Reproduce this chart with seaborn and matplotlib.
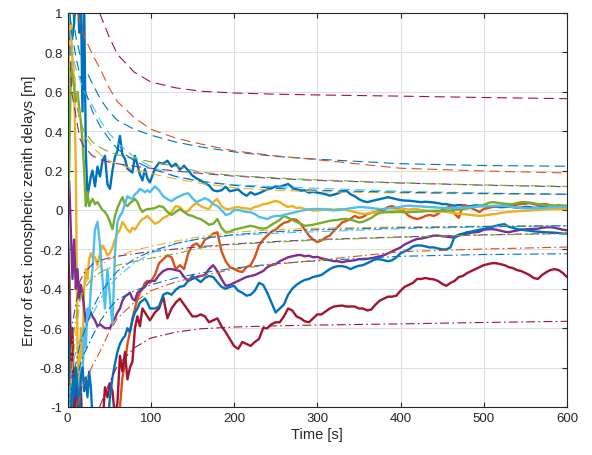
import numpy as np
import pandas as pd
import seaborn as sns
import matplotlib.pyplot as plt

sns.set_style('white')
plt.rcParams['font.family'] = ['Liberation Sans', 'DejaVu Sans']

# sample times [s] of the estimated delays
time = np.r_[0:31:2, 33:100:3, 105:601:5]

# errors of the estimated zenith delays [m]
err_blue1 = [0.95, 0.97, 0.92, 0.88, 0.95, 1.1, 1.2, 0.9, 1.1, 0.5, 1.05, 0.3, 0.07, 0.12, 0.17, 0.2,
             0.12, 0.22, 0.17, 0.25, 0.275, 0.13, 0.107, 0.2, 0.27, 0.3, 0.376, 0.28, 0.26, 0.21, 0.2,
             0.19, 0.275, 0.23, 0.18, 0.15, 0.208, 0.16, 0.14,
             0.21, 0.24, 0.235, 0.25, 0.22, 0.235, 0.205, 0.225, 0.2, 0.175,
             0.16, 0.15, 0.135, 0.125, 0.1, 0.095, 0.1, 0.118, 0.095, 0.1,
             0.105, 0.085, 0.072, 0.09, 0.078, 0.085, 0.095, 0.105, 0.11, 0.12,
             0.118, 0.125, 0.132, 0.115, 0.105, 0.098, 0.1, 0.088, 0.092, 0.088,
             0.085, 0.08, 0.073, 0.078, 0.085, 0.095, 0.098, 0.08, 0.07, 0.055,
             0.045, 0.04, 0.045, 0.05, 0.055, 0.06, 0.065, 0.06, 0.055, 0.05,
             0.048, 0.047, 0.045, 0.042, 0.04, 0.042, 0.04, 0.038, 0.035, 0.03,
             0.03, 0.025, 0.022, 0.025, 0.025, 0.02, 0.02, 0.024, 0.022, 0.02,
             0.02, 0.017, 0.018, 0.014, 0.015, 0.017, 0.015, 0.011, 0.012, 0.016,
             0.015, 0.011, 0.012, 0.016, 0.015, 0.011, 0.012, 0.016, 0.015, 0.015]
err_orange = [-0.6, -0.95, -1.2, -1.1, -0.95, -0.92, -1.05, -0.97, -1.2, -1.3, -1.35, -1.4, -1.4, -1.45, -1.45, -1.5,
              -1.5, -1.5, -1.45, -1.45, -1.4, -1.35, -1.3, -1.25, -1.2, -1.1, -1.0, -0.85, -0.78, -0.68, -0.62,
              -0.55, -0.5, -0.45, -0.42, -0.4, -0.37, -0.36, -0.37,
              -0.33, -0.27, -0.25, -0.23, -0.24, -0.3, -0.28, -0.3, -0.22, -0.18,
              -0.17, -0.19, -0.15, -0.14, -0.12, -0.113, -0.21, -0.26, -0.29, -0.3,
              -0.31, -0.315, -0.29, -0.28, -0.24, -0.18, -0.15, -0.13, -0.11, -0.1,
              -0.08, -0.065, -0.06, -0.046, -0.05, -0.07, -0.1, -0.13, -0.15, -0.163,
              -0.155, -0.14, -0.13, -0.105, -0.085, -0.063, -0.055, -0.045, -0.03, -0.04,
              -0.035, -0.02, -0.015, -0.01, -0.005, 0.0, 0.015, 0.02, 0.01, 0.0,
              -0.01, -0.03, -0.04, -0.046, -0.04, -0.03, -0.025, -0.03, -0.02, 0.0,
              0.01, 0.02, -0.02, -0.04, 0.025, 0.02, 0.01, 0.0, -0.01, 0.005,
              0.01, 0.015, 0.02, 0.02, 0.025, 0.018, 0.02, 0.028, 0.03, 0.032,
              0.035, 0.03, 0.025, 0.03, 0.03, 0.024, 0.02, 0.025, 0.02, 0.02]
err_yellow = [0.3, 0.9, 0.95, 0.75, 0.65, 0.2, -0.7, -0.95, -0.6, -0.75, -0.4, -0.3, -0.35, -0.25, -0.22, -0.24,
              -0.24, -0.28, -0.22, -0.18, -0.2, -0.23, -0.22, -0.19, -0.15, -0.12, -0.1, -0.06, -0.08, -0.1,
              -0.113, -0.09, -0.1, -0.08, -0.06, -0.046, -0.04, -0.03, -0.045,
              -0.07, -0.06, -0.04, -0.03, -0.01, 0.02, 0.015, -0.01, -0.005, 0.02,
              0.035, 0.02, 0.01, 0.005, 0.04, 0.056, 0.02, 0.005, 0.005, 0.012,
              0.015, 0.01, 0.008, 0.005, 0.015, 0.02, 0.03, 0.032, 0.04, 0.046,
              0.04, 0.025, 0.015, 0.02, 0.01, 0.012, 0.005, 0.002, -0.003, -0.002,
              0.0, 0.004, 0.005, 0.001, 0.005, 0.004, 0.0, -0.006, -0.01, -0.016,
              -0.02, -0.018, -0.015, -0.012, -0.01, -0.013, -0.01, -0.004, 0.0, 0.003,
              0.005, 0.002, 0.005, 0.004, 0.0, -0.003, -0.005, -0.008, -0.01, -0.008,
              -0.01, -0.013, -0.015, -0.018, -0.02, -0.023, -0.025, -0.028, -0.03, -0.028,
              -0.025, -0.022, -0.02, -0.015, -0.012, -0.01, -0.008, -0.007, -0.005, -0.004,
              -0.003, -0.001, 0.0, 0.002, 0.003, 0.004, 0.005, 0.005, 0.005, 0.005]
err_purple = [0.0, 0.15, -0.1, -0.35, -0.15, -0.4, -0.3, -0.45, -0.38, -0.42, -0.5, -0.57, -0.55, -0.5, -0.52, -0.54,
              -0.56, -0.59, -0.58, -0.59, -0.6, -0.6, -0.6, -0.57, -0.55, -0.52, -0.5, -0.46, -0.44, -0.43,
              -0.42, -0.45, -0.46, -0.42, -0.41, -0.4, -0.39, -0.37, -0.36,
              -0.36, -0.33, -0.31, -0.3, -0.3, -0.305, -0.31, -0.34, -0.36, -0.35,
              -0.34, -0.335, -0.33, -0.3, -0.28, -0.31, -0.35, -0.385, -0.38, -0.37,
              -0.36, -0.35, -0.34, -0.335, -0.33, -0.32, -0.31, -0.29, -0.28, -0.275,
              -0.26, -0.25, -0.24, -0.235, -0.23, -0.228, -0.235, -0.232, -0.24, -0.238,
              -0.245, -0.25, -0.255, -0.26, -0.26, -0.265, -0.26, -0.258, -0.255, -0.25,
              -0.25, -0.248, -0.245, -0.24, -0.235, -0.23, -0.22, -0.21, -0.2, -0.19,
              -0.175, -0.165, -0.155, -0.147, -0.145, -0.14, -0.135, -0.13, -0.13, -0.133,
              -0.135, -0.138, -0.14, -0.13, -0.125, -0.12, -0.115, -0.113, -0.11, -0.1,
              -0.098, -0.097, -0.1, -0.105, -0.11, -0.113, -0.108, -0.104, -0.1, -0.098,
              -0.097, -0.096, -0.095, -0.09, -0.088, -0.087, -0.09, -0.095, -0.1, -0.103]
err_green = [0.0, 0.2, 0.72, 0.68, 0.62, 0.55, 0.6, 0.52, 0.45, 0.35, 0.2, 0.02, 0.09, 0.02, 0.04, 0.056,
             0.03, 0.04, 0.02, 0.0, -0.01, -0.03, -0.06, -0.097, -0.03, 0.01, 0.04, 0.065, 0.03, 0.02,
             0.035, 0.045, 0.056, 0.04, 0.01, -0.01, 0.0, 0.005, 0.005,
             0.01, 0.02, 0.015, -0.01, -0.025, -0.01, 0.005, -0.01, -0.025, -0.03,
             -0.04, -0.046, -0.06, -0.075, -0.07, -0.046, -0.09, -0.113, -0.11, -0.1,
             -0.095, -0.09, -0.085, -0.08, -0.085, -0.092, -0.095, -0.09, -0.075, -0.063,
             -0.05, -0.03, -0.04, -0.05, -0.06, -0.07, -0.08, -0.078, -0.075, -0.07,
             -0.065, -0.06, -0.055, -0.052, -0.05, -0.046, -0.045, -0.05, -0.055, -0.063,
             -0.06, -0.05, -0.04, -0.025, -0.015, -0.01, -0.01, -0.012, -0.01, -0.01,
             -0.012, -0.011, -0.01, -0.009, -0.008, -0.006, -0.005, -0.004, -0.004, -0.003,
             -0.003, -0.002, 0.0, 0.002, 0.005, 0.008, 0.012, 0.016, 0.02, 0.025,
             0.035, 0.04, 0.038, 0.034, 0.032, 0.03, 0.03, 0.035, 0.04, 0.04,
             0.038, 0.034, 0.03, 0.027, 0.025, 0.024, 0.022, 0.023, 0.022, 0.022]
err_lightblue = [0.0, -0.3, -0.6, -0.9, -1.1, -1.2, -1.1, -0.95, -0.8, -0.85, -0.6, -0.7, -0.5, -0.55, -0.4, -0.3,
                 -0.1, -0.06, -0.18, -0.35, -0.5, -0.3, -0.45, -0.58, -0.22, -0.06, -0.03, -0.01, 0.03, 0.07,
                 0.06, 0.056, 0.08, 0.09, 0.107, 0.1, 0.09, 0.1, 0.09,
                 0.12, 0.1, 0.07, 0.055, 0.045, 0.06, 0.07, 0.08, 0.085, 0.06,
                 0.04, 0.05, 0.06, 0.05, 0.03, 0.02, 0.0, -0.025, -0.02, 0.0,
                 0.0, -0.005, -0.01, -0.012, -0.02, -0.035, -0.04, -0.046, -0.035, -0.03,
                 -0.03, -0.025, -0.02, -0.015, -0.01, -0.005, 0.0, 0.003, 0.005, 0.005,
                 0.005, 0.002, 0.0, -0.002, 0.0, 0.003, 0.005, 0.009, 0.012, 0.015,
                 0.015, 0.012, 0.01, 0.007, 0.005, 0.005, 0.008, 0.01, 0.012, 0.016,
                 0.02, 0.022, 0.02, 0.019, 0.018, 0.016, 0.015, 0.014, 0.012, 0.011,
                 0.01, 0.01, 0.01, 0.011, 0.012, 0.013, 0.015, 0.017, 0.018, 0.019,
                 0.02, 0.021, 0.022, 0.021, 0.02, 0.018, 0.015, 0.012, 0.01, 0.009,
                 0.008, 0.009, 0.01, 0.011, 0.012, 0.013, 0.015, 0.015, 0.015, 0.015]
err_red = [-0.1, -0.35, -0.9, -0.6, -1.1, -0.8, -0.95, -1.05, -0.9, -1.15, -1.3, -1.4, -1.5, -1.5, -1.5, -1.5,
           -1.45, -1.35, -1.2, -1.1, -0.9, -0.95, -0.88, -0.92, -1.05, -0.98, -0.74, -0.82, -0.72, -0.86,
           -0.8, -0.77, -0.6, -0.54, -0.59, -0.5, -0.52, -0.54, -0.56,
           -0.52, -0.5, -0.44, -0.55, -0.5, -0.47, -0.45, -0.48, -0.51, -0.54,
           -0.54, -0.53, -0.54, -0.57, -0.56, -0.55, -0.59, -0.62, -0.655, -0.69,
           -0.705, -0.67, -0.68, -0.69, -0.67, -0.655, -0.6, -0.6, -0.58, -0.57,
           -0.57, -0.54, -0.5, -0.51, -0.54, -0.55, -0.565, -0.57, -0.55, -0.53,
           -0.53, -0.515, -0.5, -0.49, -0.487, -0.485, -0.49, -0.49, -0.49, -0.5,
           -0.5, -0.51, -0.505, -0.48, -0.46, -0.45, -0.44, -0.44, -0.435, -0.41,
           -0.39, -0.38, -0.37, -0.35, -0.35, -0.345, -0.35, -0.352, -0.36, -0.375,
           -0.385, -0.37, -0.36, -0.34, -0.335, -0.32, -0.31, -0.3, -0.29, -0.28,
           -0.275, -0.27, -0.27, -0.275, -0.28, -0.29, -0.295, -0.305, -0.31, -0.32,
           -0.33, -0.345, -0.35, -0.33, -0.316, -0.305, -0.3, -0.305, -0.32, -0.34]
err_blue2 = [-0.3, -0.8, -1.05, -0.85, -0.95, -0.8, -0.9, -1.1, -0.85, -0.8, -0.92, -0.85, -0.95, -0.82, -0.9, -1.05,
             -1.15, -1.2, -1.1, -1.15, -1.05, -1.1, -0.95, -0.85, -0.78, -0.72, -0.68, -0.655, -0.64, -0.6,
             -0.62, -0.56, -0.52, -0.5, -0.47, -0.46, -0.45, -0.47, -0.5,
             -0.5, -0.49, -0.43, -0.42, -0.43, -0.405, -0.39, -0.385, -0.36, -0.335,
             -0.35, -0.366, -0.345, -0.335, -0.34, -0.366, -0.39, -0.4, -0.39, -0.385,
             -0.41, -0.42, -0.435, -0.43, -0.41, -0.37, -0.38, -0.42, -0.47, -0.52,
             -0.5, -0.48, -0.43, -0.4, -0.38, -0.366, -0.355, -0.35, -0.34, -0.335,
             -0.33, -0.315, -0.3, -0.29, -0.285, -0.285, -0.29, -0.3, -0.29, -0.283,
             -0.28, -0.27, -0.26, -0.25, -0.25, -0.255, -0.26, -0.255, -0.24, -0.22,
             -0.21, -0.2, -0.185, -0.18, -0.18, -0.185, -0.19, -0.19, -0.195, -0.2,
             -0.2, -0.19, -0.135, -0.125, -0.12, -0.113, -0.11, -0.105, -0.1, -0.097,
             -0.09, -0.085, -0.08, -0.075, -0.072, -0.085, -0.09, -0.097, -0.1, -0.103,
             -0.105, -0.108, -0.11, -0.112, -0.113, -0.114, -0.115, -0.117, -0.12, -0.12]

# standard deviations of the estimates [m] (plotted as +/- bounds)
t_sig = [1, 3, 5, 10, 15, 20, 30, 40, 50, 60, 80, 100, 130, 160, 200, 250, 300, 400, 500, 600]
sig_blue1 = [2.0, 1.3, 1.05, 0.88, 0.79, 0.73, 0.64, 0.56, 0.5, 0.455, 0.41, 0.38, 0.345, 0.32, 0.295, 0.272, 0.258, 0.235, 0.226, 0.222]
sig_orange = [2.5, 1.6, 1.3, 1.05, 0.95, 0.88, 0.79, 0.71, 0.62, 0.55, 0.47, 0.41, 0.365, 0.335, 0.30, 0.275, 0.255, 0.212, 0.198, 0.188]
sig_yellow = [1.5, 1.0, 0.85, 0.62, 0.47, 0.38, 0.32, 0.28, 0.25, 0.235, 0.205, 0.185, 0.158, 0.135, 0.113, 0.1, 0.093, 0.086, 0.082, 0.079]
sig_purple = [1.5, 0.8, 0.6, 0.48, 0.36, 0.32, 0.275, 0.255, 0.243, 0.235, 0.222, 0.212, 0.198, 0.186, 0.172, 0.16, 0.15, 0.137, 0.126, 0.118]
sig_green = [1.5, 0.9, 0.7, 0.55, 0.45, 0.4, 0.345, 0.315, 0.295, 0.28, 0.262, 0.245, 0.222, 0.192, 0.175, 0.163, 0.153, 0.138, 0.127, 0.12]
sig_lightblue = [1.2, 0.9, 0.8, 0.72, 0.66, 0.6, 0.53, 0.45, 0.39, 0.34, 0.27, 0.22, 0.17, 0.145, 0.128, 0.118, 0.11, 0.095, 0.086, 0.08]
sig_red = [5.0, 3.0, 2.3, 1.7, 1.4, 1.25, 1.09, 0.985, 0.88, 0.79, 0.70, 0.65, 0.62, 0.603, 0.594, 0.588, 0.584, 0.578, 0.571, 0.565]
sig_blue2 = [1.4, 1.0, 0.9, 0.78, 0.68, 0.62, 0.5, 0.42, 0.36, 0.31, 0.25, 0.21, 0.17, 0.145, 0.125, 0.11, 0.1, 0.09, 0.084, 0.08]

names = ['blue1', 'orange', 'yellow', 'purple', 'green', 'lightblue', 'red', 'blue2']
colors = {'blue1': '#0072BD', 'orange': '#D95319', 'yellow': '#EDB120', 'purple': '#7E2F8E',
          'green': '#77AC30', 'lightblue': '#4DBEEE', 'red': '#A2142F', 'blue2': '#0072BD'}
errors = [err_blue1, err_orange, err_yellow, err_purple, err_green, err_lightblue, err_red, err_blue2]
sigmas = [sig_blue1, sig_orange, sig_yellow, sig_purple, sig_green, sig_lightblue, sig_red, sig_blue2]

est = pd.DataFrame({'time': np.tile(time, len(names)),
                    'err': np.concatenate(errors),
                    'sat': np.repeat(names, len(time))})

fig = plt.figure(figsize=(5.92, 4.56), dpi=100)
ax = fig.add_axes([67.5 / 592, 1 - 408 / 456, 499.5 / 592, 394 / 456])

sns.lineplot(data=est, x='time', y='err', hue='sat', hue_order=names, palette=colors,
             estimator=None, sort=False, lw=1.7, legend=False, ax=ax)

# +/- sigma bounds
for name, sig in zip(names, sigmas):
    s = np.array(sig)
    sns.lineplot(x=t_sig, y=s, color=colors[name], lw=0.8, ls=(0, (9, 5)),
                 errorbar=None, ax=ax)
    sns.lineplot(x=t_sig, y=-s, color=colors[name], lw=0.8, ls=(0, (8, 3, 1.5, 3)),
                 errorbar=None, ax=ax)

x_ticks = [0, 100, 200, 300, 400, 500, 600]
y_ticks = [-1, -0.8, -0.6, -0.4, -0.2, 0, 0.2, 0.4, 0.6, 0.8, 1]
ax.set_xlim(0, 600)
ax.set_ylim(-1, 1)
ax.set_xticks(x_ticks, [str(v) for v in x_ticks])
ax.set_yticks(y_ticks, [f'{v:g}' for v in y_ticks])
ax.grid(True, color='#dfdfdf', lw=0.8)
ax.set_axisbelow(True)
for sp in ax.spines.values():
    sp.set_color('#262626')
    sp.set_linewidth(0.8)
ax.tick_params(direction='in', length=3.5, width=0.8, color='#262626', labelcolor='#262626',
               labelsize=9.5, top=True, right=True, bottom=True, left=True)
ax.set_xlabel('Time [s]', fontsize=10.5, color='#262626', labelpad=2)
ax.set_ylabel('Error of est. ionospheric zenith delays [m]', fontsize=10.5, color='#262626', labelpad=3)

fig.savefig('out.png', dpi=100)
